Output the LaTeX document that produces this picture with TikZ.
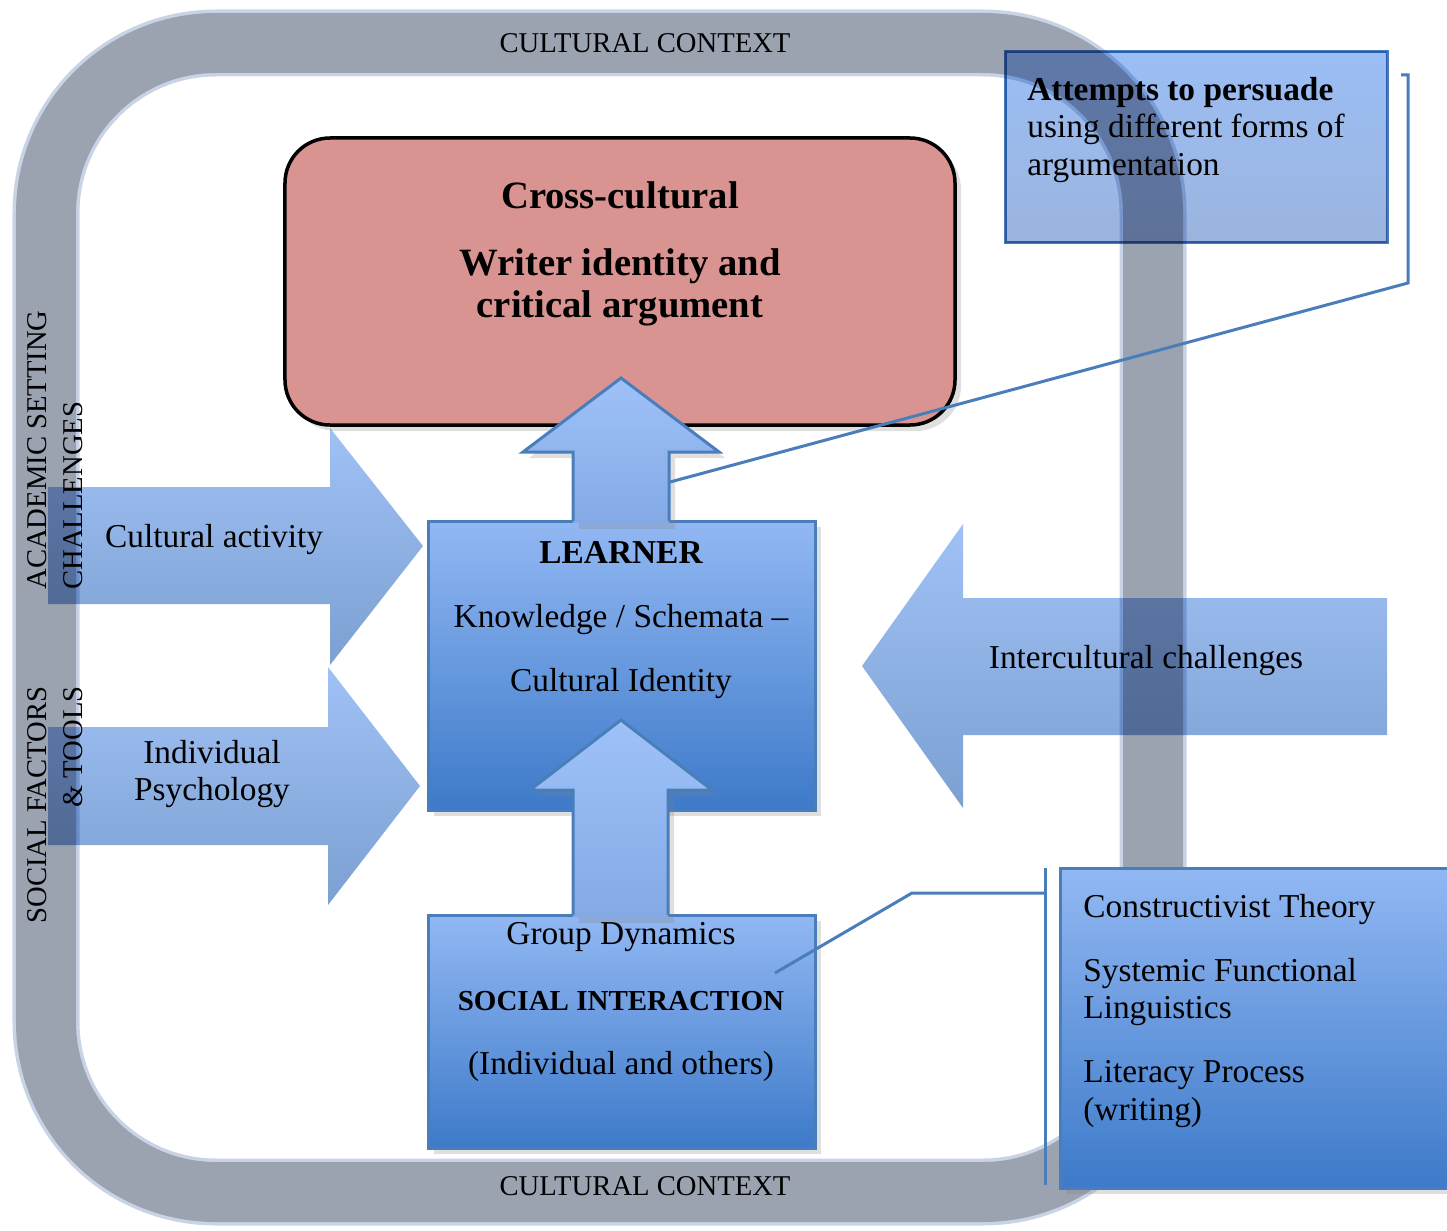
\documentclass[tikz,border=0pt]{standalone}
\usepackage{fontspec}
\setmainfont{Liberation Serif}
\usetikzlibrary{shadows,positioning}
\definecolor{bandgray}{RGB}{155,162,176}
\definecolor{bandedge}{RGB}{200,212,230}
\definecolor{rosebox}{RGB}{217,148,146}
\definecolor{boxline}{RGB}{74,126,187}
\definecolor{bluetop}{RGB}{146,184,243}
\definecolor{bluebot}{RGB}{61,122,201}
\definecolor{arrowtop}{RGB}{158,193,248}
\definecolor{arrowbot}{RGB}{132,170,230}
\definecolor{glasstop}{RGB}{160,193,245}
\definecolor{glassbot}{RGB}{124,160,210}

\begin{document}
\begin{tikzpicture}[x=0.2mm,y=-0.2mm]
	\tikzstyle{every node}=[font=\fontsize{19}{21.6}\selectfont]
	\tikzstyle{caps}=[font=\fontsize{16.3}{20.4}\selectfont]
	\tikzstyle{heavy}=[font=\fontsize{22}{24}\selectfont\bfseries]
	\tikzstyle{shade}=[drop shadow={shadow xshift=1.2mm, shadow yshift=-1.2mm, opacity=.25}]
	\tikzstyle{bluebox}=[draw=boxline, line width=0.6mm, top color=bluetop, bottom color=bluebot, shade]
	\tikzstyle{uparrow}=[top color=arrowtop, bottom color=arrowbot, shade]
	\tikzstyle{glass}=[top color=glasstop, bottom color=glassbot]
	\tikzstyle{callout}=[draw=boxline, line width=0.6mm]

	\useasboundingbox (0,0) rectangle (1447,1230);

	%cultural context frame
	\draw[bandedge, line width=13.4mm, rounded corners=34mm] (46,43) rectangle (1153,1192);
	\draw[bandgray, line width=12mm, rounded corners=34mm] (46,43) rectangle (1153,1192);

	%boxes
	\node[draw, line width=0.7mm, fill=rosebox, rounded corners=9mm, minimum width=134mm, minimum height=57.4mm, shade] (goal) at (620,281.5) {};
	\node[bluebox, minimum width=77.4mm, minimum height=57.8mm] (learner) at (621.5,665.5) {};
	\node[bluebox, minimum width=77.4mm, minimum height=46.6mm] (social) at (621.5,1031.5) {};
	\node[bluebox, minimum width=80mm, minimum height=64mm] (theory) at (1260,1028) {};

	%up arrows
	\path[uparrow] (573,523) -- (573,452) -- (523,452) -- (621,378) -- (719,452) -- (669,452) -- (669,523) -- cycle;
	\draw[callout] (573,521) -- (573,452) -- (523,452) -- (621,378) -- (719,452) -- (669,452) -- (669,521);
	\path[uparrow] (573,917) -- (573,790) -- (530,790) -- (621,720) -- (712,790) -- (668,790) -- (668,917) -- cycle;
	\draw[callout] (573,915) -- (573,790) -- (530,790) -- (621,720) -- (712,790) -- (668,790) -- (668,915);

	%glass parts over the frame
	\begin{scope}[blend mode=multiply]
	\node[draw=boxline, line width=0.6mm, top color={rgb,255:red,155;green,190;blue,245}, bottom color={rgb,255:red,155;green,180;blue,222}, minimum width=76.4mm, minimum height=38mm] (persuade) at (1196,147) {};
	\path[glass] (48,487) -- (330,487) -- (330,428) -- (423,546) -- (330,665) -- (330,604) -- (48,604) -- cycle; %cultural activity
	\path[glass] (48,727) -- (328,727) -- (328,667) -- (420,786) -- (328,905) -- (328,845) -- (48,845) -- cycle; %individual psychology
	\path[glass] (1387,598) -- (963,598) -- (963,524) -- (862,666) -- (963,808) -- (963,735) -- (1387,735) -- cycle; %intercultural
	\end{scope}

	%texts
	\node[caps] (ctxtop) at (645,43) {CULTURAL CONTEXT};
	\node[caps] (ctxbot) at (645,1186) {CULTURAL CONTEXT};
	\node[caps, rotate=90, align=left] (academic) at (55,450) {ACADEMIC SETTING\\CHALLENGES};
	\node[caps, rotate=90, align=right] (factors) at (55,805) {SOCIAL FACTORS\\\& TOOLS};
	\node[heavy] (crossc) at (620,195) {Cross-cultural};
	\node[heavy, align=center] (writer) at (620,287) {Writer identity and\\critical argument};
	\node[font=\fontsize{19}{21.6}\selectfont\bfseries] (learnerhead) at (621,552) {LEARNER};
	\node (schemata) at (621,620) {Knowledge / Schemata –};
	\node (identity) at (621,684) {Cultural Identity};
	\node (group) at (621,937) {Group Dynamics};
	\node[font=\fontsize{16.5}{20}\selectfont\bfseries] (interact) at (621,1001) {SOCIAL INTERACTION};
	\node (others) at (621,1066) {(Individual and others)};
	\node (activity) at (214,540) {Cultural activity};
	\node[align=center] (psych) at (212,774) {Individual\\Psychology};
	\node (intercult) at (1146,661) {Intercultural challenges};
	\node[align=left, anchor=west, inner sep=0pt] (persuadetxt) at (1027,130) {\textbf{Attempts to persuade}\\using different forms of\\argumentation};
	\node[align=left, anchor=west, inner sep=0pt] (theorytxt) at (1083,1011) {Constructivist Theory\\[5.2mm]Systemic Functional\\Linguistics\\[5.2mm]Literacy Process\\(writing)};

	%callout lines
	\coordinate (brtop) at (1401,75);
	\coordinate (brbot) at (1408,283);
	\coordinate (upshaft) at (670,482);
	\draw[callout] (brtop) -- (brtop -| brbot) -- (brbot) -- (upshaft);
	\coordinate (grouppt) at (775,973);
	\coordinate (knee) at (912,893);
	\coordinate (bartop) at (1045,868);
	\coordinate (barbot) at (1045,1185);
	\draw[callout] (grouppt) -- (knee) -- (knee -| bartop);
	\draw[callout] (bartop) -- (barbot);
\end{tikzpicture}
\end{document}
